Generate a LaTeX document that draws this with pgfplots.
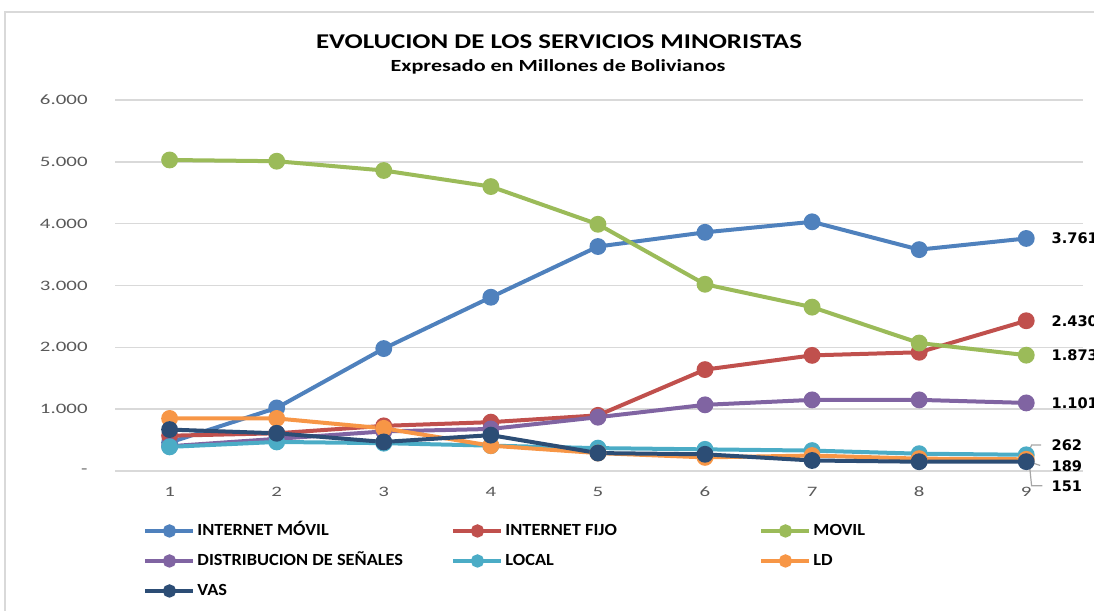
\documentclass[border=0pt]{standalone}
\usepackage{pgfplots}
\pgfplotsset{compat=1.18}
\usepackage{fontspec}
\setmainfont{Carlito}
\newfontfamily\titlef[FakeStretch=1.28]{Carlito}
\newfontfamily\subf[FakeStretch=1.3]{Carlito}
\newfontfamily\tickf[FakeStretch=1.45]{Carlito}
\newfontfamily\legf[FakeStretch=1.08]{Carlito}
\newfontfamily\labf{DejaVu Sans}
\definecolor{cIM}{HTML}{4F81BD}
\definecolor{cIF}{HTML}{C0504D}
\definecolor{cMOV}{HTML}{9BBB59}
\definecolor{cDS}{HTML}{8064A2}
\definecolor{cLOC}{HTML}{4BACC6}
\definecolor{cLD}{HTML}{F79646}
\definecolor{cVAS}{HTML}{2C4D75}
\definecolor{tickgray}{HTML}{595959}
\definecolor{gridgray}{HTML}{D9D9D9}
\pgfplotstableread{
x IM IF MOV DS LOC LD VAS
1 460 570 5030 400 390 850 670
2 1020 610 5010 520 470 850 610
3 1980 730 4860 640 450 690 470
4 2810 790 4600 680 410 410 580
5 3630 900 3990 870 370 290 290
6 3860 1640 3020 1070 350 220 270
7 4030 1870 2650 1150 330 250 170
8 3580 1920 2070 1150 280 200 150
9 3761 2430 1873 1101 262 189 151
}\datatable
\begin{document}
\begin{tikzpicture}
\path[use as bounding box] (0pt,0pt) rectangle (547pt,305.5pt);
\draw[gridgray, line width=0.7pt] (2.5pt,-20pt) -- (2.5pt,299.5pt) -- (600pt,299.5pt);
\node[font=\titlef\bfseries\fontsize{10.5}{12}\selectfont] at (279.5pt,284.5pt) {EVOLUCION DE LOS SERVICIOS MINORISTAS};
\node[font=\subf\bfseries\fontsize{8.5}{10}\selectfont] at (279pt,272pt) {Expresado en Millones de Bolivianos};
\begin{axis}[
  at={(57.5pt,70pt)}, anchor=south west,
  scale only axis, width=484pt, height=185.5pt,
  xmin=0.49, xmax=9.53, ymin=0, ymax=6000,
  clip=false,
  axis line style={draw=none},
  tick style={draw=none},
  ymajorgrids, grid style={gridgray, line width=0.8pt},
  xtick={1,...,9},
  xticklabels={1,2,3,4,5,6,7,8,9},
  ytick={0,1000,...,6000},
  yticklabels={{-\hspace{12pt}},1.000,2.000,3.000,4.000,5.000,6.000},
  /pgf/number format/assume math mode=true,
  ticklabel style={font=\tickf\fontsize{7.2}{8}\selectfont, text=tickgray},
  yticklabel style={anchor=east, inner sep=0pt, xshift=-13.5pt},
  xticklabel style={anchor=center, inner sep=0pt, yshift=-10.5pt},
  every axis plot/.append style={line width=2pt, mark=*, mark size=3.2pt},
  legend style={at={(0.029,-0.135)}, anchor=north west, draw=none, fill=none,
    legend columns=3, inner sep=0pt,
    font=\legf\bfseries\fontsize{8.5}{10}\selectfont,
    nodes={inner sep=1pt, text height=6pt, text depth=1.5pt},
    row sep=5.5pt, column sep=0pt},
  legend cell align=left,
  legend image code/.code={\draw[#1, mark size=2.3pt, mark repeat=2, mark phase=2] plot coordinates {(0pt,0pt) (12pt,0pt) (24pt,0pt)};},
]
\addplot[cIM, mark options={fill=cIM}] table[x=x,y=IM]{\datatable};
\addlegendentry{\makebox[126pt][l]{INTERNET MÓVIL}}
\addplot[cIF, mark options={fill=cIF}] table[x=x,y=IF]{\datatable};
\addlegendentry{\makebox[126pt][l]{INTERNET FIJO}}
\addplot[cMOV, mark options={fill=cMOV}] table[x=x,y=MOV]{\datatable};
\addlegendentry{MOVIL}
\addplot[cDS, mark options={fill=cDS}] table[x=x,y=DS]{\datatable};
\addlegendentry{\makebox[126pt][l]{DISTRIBUCION DE SEÑALES}}
\addplot[cLOC, mark options={fill=cLOC}] table[x=x,y=LOC]{\datatable};
\addlegendentry{\makebox[126pt][l]{LOCAL}}
\addplot[cLD, mark options={fill=cLD}] table[x=x,y=LD]{\datatable};
\addlegendentry{LD}
\addplot[cVAS, mark options={fill=cVAS}] table[x=x,y=VAS]{\datatable};
\addlegendentry{VAS}
\begin{scope}[every node/.style={anchor=west, inner sep=0pt, font=\labf\bfseries\fontsize{7.3}{8}\selectfont}]
\node[xshift=12.5pt] at (axis cs:9,3761) {3.761};
\node[xshift=12.5pt] at (axis cs:9,2430) {2.430};
\node[xshift=12.5pt] at (axis cs:9,1873) {1.873};
\node[xshift=12.5pt] at (axis cs:9,1101) {1.101};
\node[xshift=12.5pt] at (axis cs:9,420) {262};
\node[xshift=12.5pt] at (axis cs:9,80) {189};
\node[xshift=12.5pt] at (axis cs:9,-240) {151};
\end{scope}
\draw[gray!70, line width=0.6pt] (axis cs:9.02,300) -- (axis cs:9.05,420) -- (axis cs:9.14,420);
\draw[gray!70, line width=0.6pt] (axis cs:9.04,140) -- (axis cs:9.13,90);
\draw[gray!70, line width=0.6pt] (axis cs:9.03,100) -- (axis cs:9.05,-240) -- (axis cs:9.15,-240);
\end{axis}
\end{tikzpicture}
\end{document}
